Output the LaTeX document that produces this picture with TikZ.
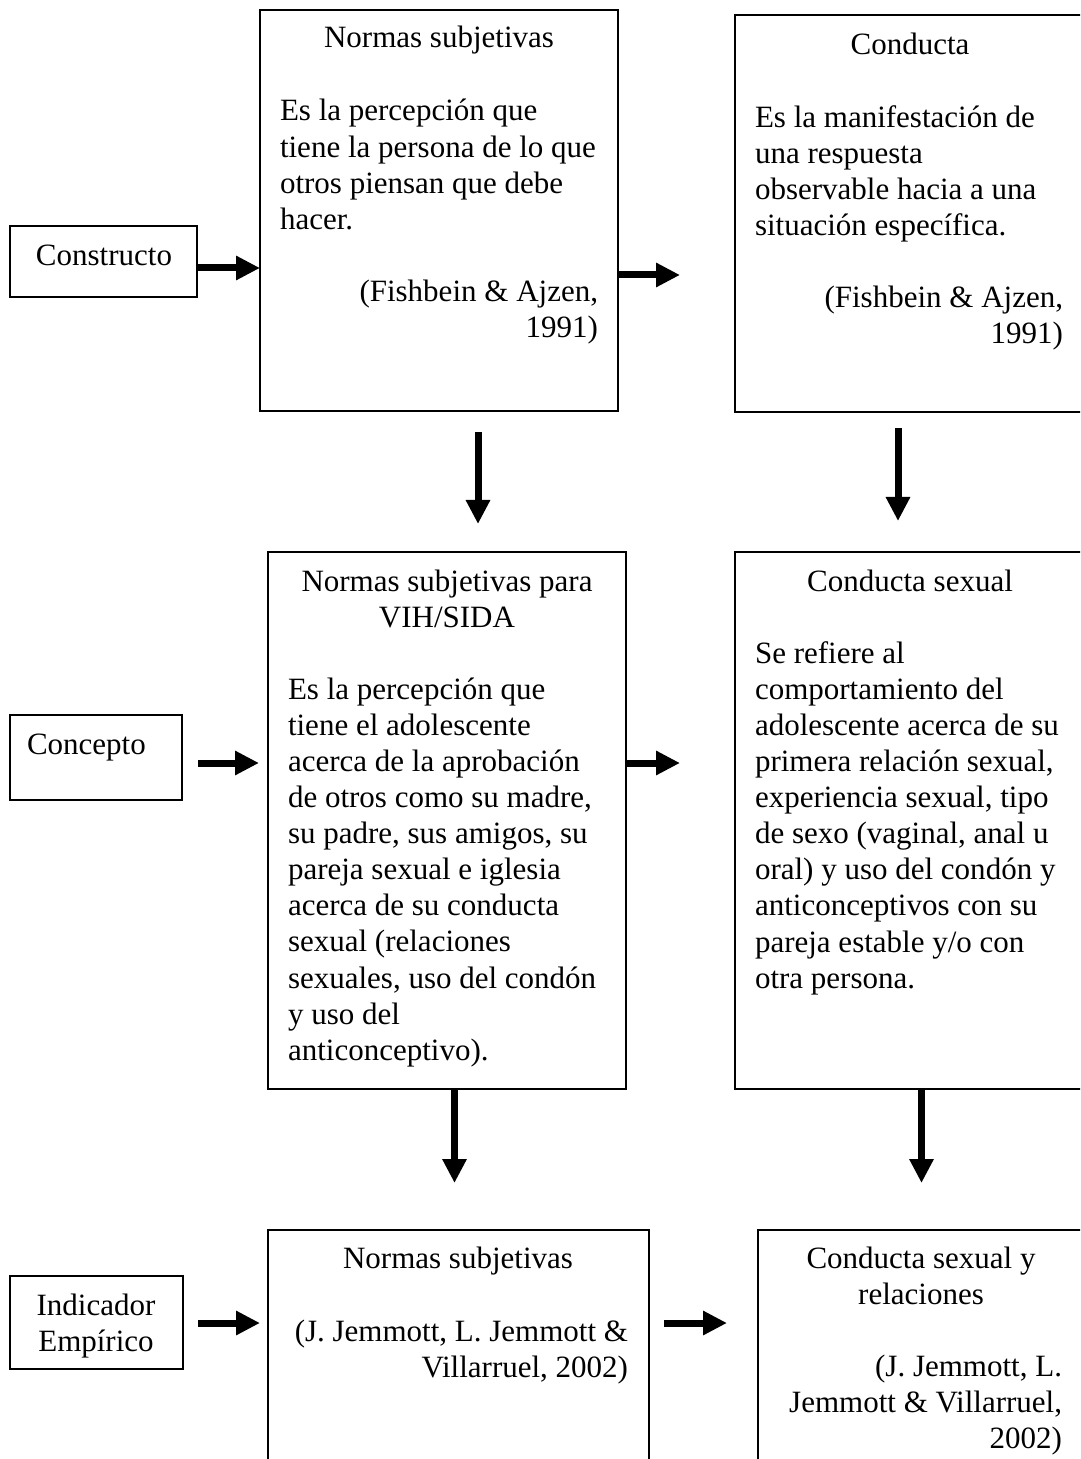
\documentclass[tikz,border=0pt]{standalone}
\usepackage{fontspec}
\setmainfont{Liberation Serif}
\usetikzlibrary{arrows.meta}
\newcommand\fs{\fontsize{15.5}{18.05}\selectfont}
\begin{document}
\begin{tikzpicture}[x=0.5pt,y=-0.5pt,
  box/.style={draw, line width=1pt, anchor=north west, inner sep=0pt, outer sep=0pt},
  txt/.style={inner sep=0pt, outer sep=0pt, font=\fs},
  ttl/.style={txt, anchor=base},
  ttl2/.style={txt, anchor=north, align=center},
  body/.style={txt, anchor=north west, align=left},
  cite/.style={txt, anchor=north east, align=right},
  arr/.style={line width=3.5pt, -{Triangle[length=12pt,width=11.5pt]}}
]
\useasboundingbox (0,0) rectangle (1080,1459);
\clip (0,0) rectangle (1080,1459);

% boxes
\node[box, minimum width=93.5pt, minimum height=35.5pt] (constructo) at (10,226) {};
\node[box, minimum width=179pt, minimum height=200.5pt] (ns1) at (260,10) {};
\node[box, minimum width=190pt, minimum height=198.5pt] (cond1) at (735,15) {};
\node[box, minimum width=86pt, minimum height=42.5pt] (concepto) at (10,715) {};
\node[box, minimum width=179pt, minimum height=268.5pt] (ns2) at (268,552) {};
\node[box, minimum width=190pt, minimum height=268.5pt] (cond2) at (735,552) {};
\node[box, minimum width=86.5pt, minimum height=46.5pt] (indicador) at (10,1276) {};
\node[box, minimum width=190.5pt, minimum height=130pt] (ns3) at (268,1230) {};
\node[box, minimum width=180pt, minimum height=130pt] (cond3) at (758,1230) {};

% texts: row 1
\node[ttl] (tconstructo) at (104,266) {Constructo};
\node[ttl] (tns1) at (439,48) {Normas subjetivas};
\node[body] (bns1) at (280,121-25.27) {\strut Es la percepción que\\tiene la persona de lo que\\otros piensan que debe\\hacer.};
\node[cite] (cns1) at (598,301.5-25.27) {\strut (Fishbein \& Ajzen,\\1991)};
\node[ttl] (tcond1) at (910,55) {Conducta};
\node[body] (bcond1) at (755,127.2-25.27) {\strut Es la manifestación de\\una respuesta\\observable hacia a una\\situación específica.};
\node[cite] (ccond1) at (1063,307.7-25.27) {\strut (Fishbein \& Ajzen,\\1991)};

% row 2
\node[txt, anchor=base west] (tconcepto) at (27,754) {Concepto};
\node[ttl2] (tns2) at (447,591-25.27) {\strut Normas subjetivas para\\VIH/SIDA};
\node[body] (bns2) at (288,699.2-25.27) {\strut Es la percepción que\\tiene el adolescente\\acerca de la aprobación\\de otros como su madre,\\su padre, sus amigos, su\\pareja sexual e iglesia\\acerca de su conducta\\sexual (relaciones\\sexuales, uso del condón\\y uso del\\anticonceptivo).};
\node[ttl] (tcond2) at (910,591) {Conducta sexual};
\node[body] (bcond2) at (755,663.2-25.27) {\strut Se refiere al\\comportamiento del\\adolescente acerca de su\\primera relación sexual,\\experiencia sexual, tipo\\de sexo (vaginal, anal u\\oral) y uso del condón y\\anticonceptivos con su\\pareja estable y/o con\\otra persona.};

% row 3
\node[ttl2] (tindicador) at (96,1315-25.27) {\strut Indicador\\Empírico};
\node[ttl] (tns3) at (458,1268) {Normas subjetivas};
\node[cite] (cns3) at (628,1341-25.27) {\strut (J. Jemmott, L. Jemmott \&\\Villarruel, 2002)};
\node[ttl2] (tcond3) at (921,1268-25.27) {\strut Conducta sexual y\\relaciones};
\node[cite] (ccond3) at (1062,1376-25.27) {\strut (J. Jemmott, L.\\Jemmott \& Villarruel,\\2002)};

% connector end points
\coordinate (a1s) at (197,268);
\coordinate (a2s) at (618,275);
\coordinate (a2e) at (680,275);
\coordinate (a3s) at (478,432);
\coordinate (a3e) at (478,524);
\coordinate (a4s) at (898,428);
\coordinate (a4e) at (898,521);
\coordinate (a5s) at (198,763);
\coordinate (a5e) at (259,763);
\coordinate (a6s) at (626,763);
\coordinate (a6e) at (680,763);
\coordinate (a7s) at (454.5,1089);
\coordinate (a7e) at (454.5,1183);
\coordinate (a8s) at (921.5,1089);
\coordinate (a8e) at (921.5,1183);
\coordinate (a9s) at (198,1323);
\coordinate (a9e) at (260,1323);
\coordinate (a10s) at (664,1323);
\coordinate (a10e) at (727,1323);

% connectors
\draw[arr] (a1s) -- (a1s -| ns1.west);
\draw[arr] (a2s) -- (a2e);
\draw[arr] (a3s) -- (a3e);
\draw[arr] (a4s) -- (a4e);
\draw[arr] (a5s) -- (a5e);
\draw[arr] (a6s) -- (a6e);
\draw[arr] (a7s) -- (a7e);
\draw[arr] (a8s) -- (a8e);
\draw[arr] (a9s) -- (a9e);
\draw[arr] (a10s) -- (a10e);
\end{tikzpicture}
\end{document}
